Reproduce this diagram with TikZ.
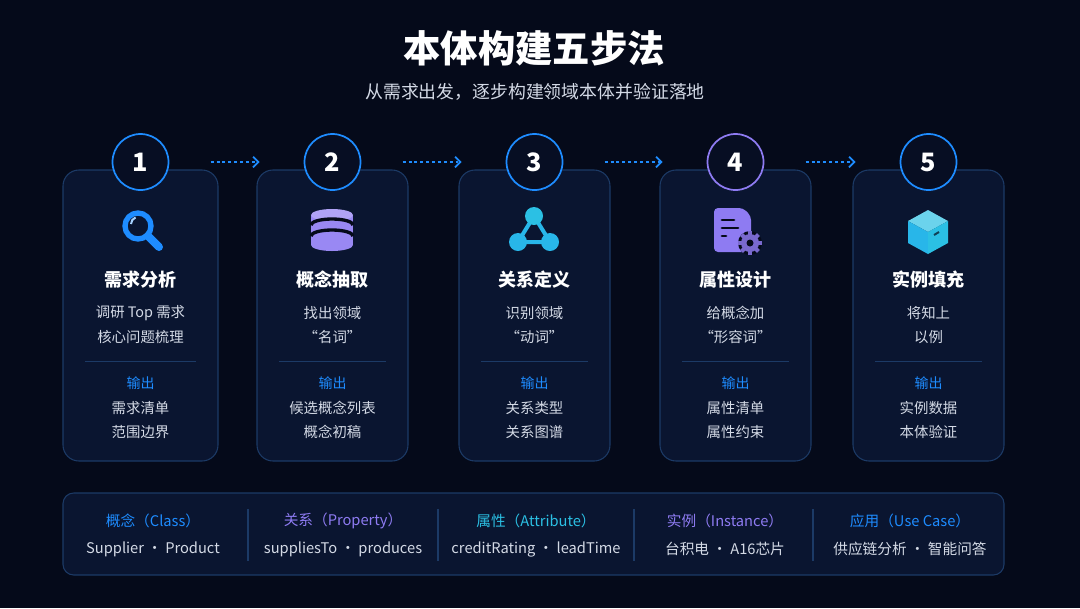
\documentclass[tikz,border=0pt]{standalone}
\usepackage{fontspec}
\setmainfont{Noto Sans CJK SC}
\usetikzlibrary{arrows.meta}
\definecolor{bg}{HTML}{050A1A}
\definecolor{cardfill}{HTML}{0A1530}
\definecolor{cardline}{HTML}{1C3A66}
\definecolor{accent}{HTML}{1E8CFF}
\definecolor{violet}{HTML}{8E7BF2}
\definecolor{cyanish}{HTML}{2BC0E4}
\definecolor{soft}{HTML}{D4DAE6}
\tikzset{
  card/.style={draw=cardline,fill=cardfill,rounded corners=12pt,line width=0.8pt},
  stepnum/.style={circle,minimum size=42pt,line width=1.3pt,fill=bg!60!cardfill,
    text=white,font=\bfseries\fontsize{19}{19}\selectfont},
  cardtitle/.style={text=white,font=\bfseries\fontsize{13.5}{14}\selectfont},
  body/.style={text=soft,font=\fontsize{10.8}{11}\selectfont},
  outlabel/.style={text=accent,font=\fontsize{10.5}{11}\selectfont},
  flow/.style={accent,line width=1.3pt,dash pattern=on 2.2pt off 2.2pt,
    -{Straight Barb[length=4pt,width=8pt,line width=1.3pt]},shorten <=31pt,shorten >=33pt},
}
\begin{document}
\begin{tikzpicture}[x=0.75pt,y=-0.75pt]
\fill[bg] (0,0) rectangle (1080,608);
\useasboundingbox (0,0) rectangle (1080,608);
% heading
\node[text=white,font=\bfseries\fontsize{28}{29}\selectfont] (title) at (534,48) {本体构建五步法};
\node[text=soft,font=\fontsize{13.4}{14}\selectfont] (sub) at (535,92) {从需求出发，逐步构建领域本体并验证落地};
% cards
\foreach \i/\xa/\xb/\ring/\ti/\la/\lb/\oa/\ob in {
  1/63/218/accent/需求分析/调研 Top 需求/核心问题梳理/需求清单/范围边界,
  2/257/408/accent/概念抽取/找出领域/“名词”/候选概念列表/概念初稿,
  3/459/610/accent/关系定义/识别领域/“动词”/关系类型/关系图谱,
  4/660/811/violet/属性设计/给概念加/“形容词”/属性清单/属性约束,
  5/853/1004/accent/实例填充/将知上/以例/实例数据/本体验证}{
  \pgfmathsetmacro\xm{(\xa+\xb)/2}
  \draw[card] (\xa,170) rectangle (\xb,461);
  \draw[cardline,line width=0.6pt] (\xa+22,361) -- (\xb-22,361);
  \node[stepnum,draw=\ring] (c\i) at (\xm,162) {\i};
  \node[cardtitle] (t\i) at (\xm,280) {\ti};
  \node[body] (la\i) at (\xm,313) {\la};
  \node[body] (lb\i) at (\xm,337) {\lb};
  \node[outlabel] (o\i) at (\xm,383) {输出};
  \node[body] (oa\i) at (\xm,408) {\oa};
  \node[body] (ob\i) at (\xm,432) {\ob};
}
\foreach \a/\b in {1/2,2/3,3/4,4/5} \draw[flow] (c\a) -- (c\b);
% icons
\begin{scope}[shift={(142,230)}]
  \draw[accent,line width=4pt] (-4,-4) circle (13);
  \draw[accent,line width=6pt,line cap=round] (6,6) -- (17,17);
  \draw[accent!40,line width=1.5pt] (-11,-6) arc (180:250:7);
\end{scope}
\begin{scope}[shift={(332,230)}]
  \fill[violet!90] (-21,-15) rectangle (21,15);
  \fill[violet!90] (0,15) ellipse (21 and 6);
  \fill[violet!70!white] (0,-15) ellipse (21 and 6);
  \draw[bg,line width=2.5pt] (-21,-5) arc (180:360:21 and 6);
  \draw[bg,line width=2.5pt] (-21,6) arc (180:360:21 and 6);
\end{scope}
\begin{scope}[shift={(534,230)}]
  \draw[cyanish!80!accent,line width=3pt] (0,-14) -- (-16,12) -- (16,12) -- cycle;
  \fill[cyanish] (0,-14) circle (9);
  \fill[cyanish!80!accent] (-16,12) circle (9);
  \fill[cyanish!80!accent] (16,12) circle (9);
\end{scope}
\begin{scope}[shift={(735,230)}]
  \fill[violet,rounded corners=3pt] (-21,-22) -- (8,-22) -- (16,-14) -- (16,22) -- (-21,22) -- cycle;
  \foreach \yy/\ww in {-10/12,-2/16,6/4} \draw[bg,line width=2.2pt,line cap=round] (-13,\yy) -- (-13+\ww,\yy);
  \fill[bg] (15,13) circle (12);
  \fill[violet!85!black] (15,13) circle (9);
  \foreach \ang in {0,45,...,315} \fill[violet!85!black,rotate around={\ang:(15,13)}] (13,1) rectangle (17,5);
  \fill[bg] (15,13) circle (3.5);
\end{scope}
\begin{scope}[shift={(928,232)}]
  \fill[cyanish!70!white] (0,-22) -- (20,-11) -- (0,0) -- (-20,-11) -- cycle;
  \fill[cyanish!80!accent] (-20,-11) -- (0,0) -- (0,22) -- (-20,11) -- cycle;
  \fill[cyanish] (20,-11) -- (0,0) -- (0,22) -- (20,11) -- cycle;
  \draw[bg!70!cyanish,line width=1.5pt] (6,3) -- (11,0);
\end{scope}
% bottom legend
\draw[card,rounded corners=8pt] (63,493) rectangle (1004,575);
\foreach \j/\xc/\col/\hd/\en/\ea/\eb in {
  1/153/accent/概念/Class/Supplier/Product,
  2/343/violet/关系/Property/suppliesTo/produces,
  3/536/cyanish/属性/Attribute/creditRating/leadTime,
  4/725/violet/实例/Instance/台积电/A16芯片,
  5/910/accent/应用/Use Case/供应链分析/智能问答}{
  \node[text=\col,font=\fontsize{11}{12}\selectfont] (h\j) at (\xc,521) {\hd（\en）};
  \node[text=soft,font=\fontsize{11}{12}\selectfont] (e\j) at (\xc,549) {\ea\ ・ \eb};
}
\foreach \xd in {248,438,634,813} \draw[cardline,line width=0.8pt] (\xd,509) -- (\xd,561);
\end{tikzpicture}
\end{document}
